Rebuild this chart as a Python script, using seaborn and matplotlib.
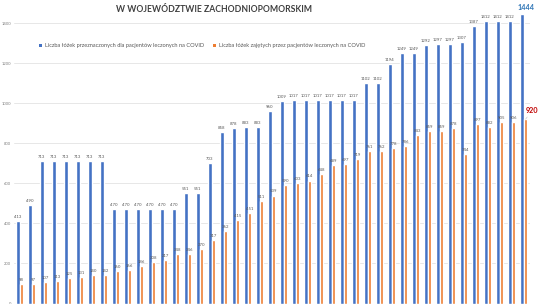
import matplotlib
matplotlib.use("Agg")
import matplotlib.pyplot as plt
import seaborn as sns
import pandas as pd
from matplotlib.patches import Patch

days = [f"D{i+1}" for i in range(43)]
beds_total = [413, 490, 713, 713, 713, 713, 713, 713, 470, 470, 470, 470, 470, 470,
              551, 551, 703, 858, 878, 883, 883, 960, 1009, 1017, 1017, 1017, 1017, 1017,
              1017, 1102, 1102, 1194, 1249, 1249, 1292, 1297, 1297, 1307, 1387, 1412,
              1412, 1412, 1444]
beds_used = [98, 97, 107, 113, 125, 131, 140, 142, 160, 166, 186, 208, 217, 248, 246,
             270, 317, 362, 415, 451, 511, 539, 590, 603, 614, 648, 689, 697, 719, 761,
             762, 778, 786, 843, 859, 859, 878, 744, 897, 882, 905, 906, 920]
series_names = ["Liczba łóżek przeznaczonych dla pacjentów leczonych na COVID",
                "Liczba łóżek zajętych przez pacjentów leczonych na COVID"]
yticks = [0, 200, 400, 600, 800, 1000, 1200, 1400]
title_top = "LICZBA ŁÓŻEK DLA PACJENTÓW Z COVID-19 I ICH WYKORZYSTANIE"
title_main = "W WOJEWÓDZTWIE ZACHODNIOPOMORSKIM"

df = pd.DataFrame({
    "day": days * 2,
    "value": beds_total + beds_used,
    "series": [series_names[0]] * len(days) + [series_names[1]] * len(days),
})

sns.set_theme(style="white")
plt.rcParams["font.family"] = ["Lato", "DejaVu Sans"]

fig = plt.figure(figsize=(5.4, 3.04), dpi=100)
W, H = 540, 304
left, right = 13.75, 529.75
y0, y1600 = 303.5, -17.0
ax = fig.add_axes([left / W, (H - y0) / H, (right - left) / W, (y0 - y1600) / H])

colors = ["#4472C4", "#ED7D31"]
sns.barplot(data=df, x="day", y="value", hue="series", palette=colors,
            width=0.6, gap=0, ax=ax, legend=False, saturation=1)

ax.set_ylim(0, 1600)
ax.set_xlim(-0.5, len(days) - 0.5)
ax.set_yticks(yticks)
ax.set_yticklabels([str(t) for t in yticks], fontsize=3, color="#7F7F7F")
ax.set_xticks([])
ax.set_xlabel("")
ax.set_ylabel("")
ax.tick_params(axis="y", length=0, pad=2)
ax.grid(axis="y", color="#E3E3E3", linewidth=0.6)
ax.set_axisbelow(True)
for s in ax.spines.values():
    s.set_visible(False)

conts = ax.containers
lab0 = [str(v) for v in beds_total[:-1]] + [""]
lab1 = [str(v) for v in beds_used[:-1]] + [""]
ax.bar_label(conts[0], labels=lab0, fontsize=3.1, color="#595959", padding=1.5)
ax.bar_label(conts[1], labels=lab1, fontsize=3.1, color="#595959", padding=1.5)

pb = conts[0].patches[-1]
ax.annotate(str(beds_total[-1]), (pb.get_x() + pb.get_width() / 2, pb.get_height()),
            xytext=(3, 2), textcoords="offset points", ha="center", va="bottom",
            fontsize=5.2, fontweight="bold", color="#2E75B6")
po = conts[1].patches[-1]
ax.annotate(str(beds_used[-1]), (po.get_x() + po.get_width() / 2, po.get_height()),
            xytext=(5, 4), textcoords="offset points", ha="center", va="bottom",
            fontsize=5.2, fontweight="bold", color="#C00000",
            arrowprops=dict(arrowstyle="-", color="#BFBFBF", lw=0.4, shrinkA=0, shrinkB=0))

handles = [Patch(facecolor=c, edgecolor="none") for c in colors]
fig.legend(handles, series_names, loc="center", bbox_to_anchor=(202 / W, 1 - 46 / H),
           ncol=2, frameon=False, fontsize=4.05, handlelength=0.6, handleheight=0.6,
           handletextpad=0.5, columnspacing=1.6, labelcolor="#595959")

fig.text(214 / W, 1 - 10 / H, title_main, ha="center", va="center", fontsize=6.2,
         fontweight="bold", color="#404040")
fig.text(214 / W, 1 + 3 / H, title_top, ha="center", va="center", fontsize=6.2,
         fontweight="bold", color="#404040")

fig.savefig("out.png", dpi=100)
